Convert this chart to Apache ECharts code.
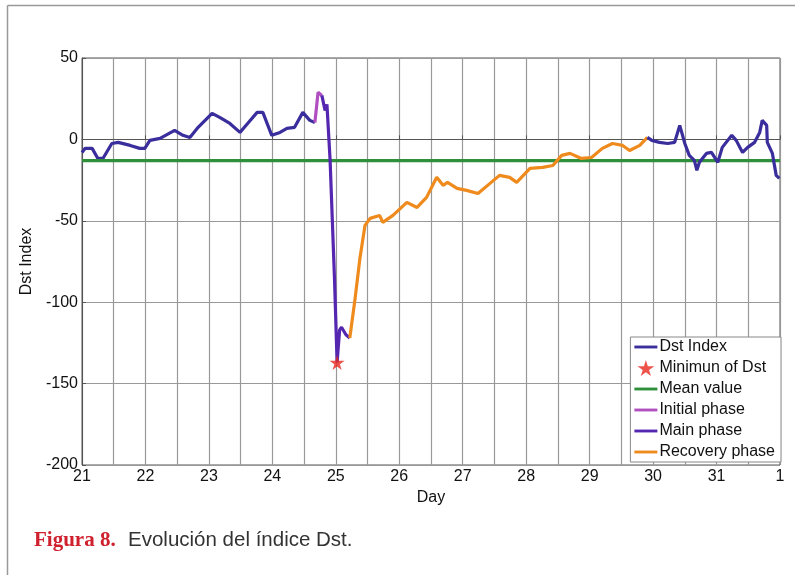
<!DOCTYPE html>
<html>
<head>
<meta charset="utf-8">
<script src="https://cdn.jsdelivr.net/npm/echarts@6/dist/echarts.min.js"></script>
<style>
html, body { margin: 0; background: #fff; }
#chart_box { width: 795px; height: 575px; }
</style>
</head>
<body>
<div id="chart_box"></div>
<script>
// dias (21 .. 32 = dia 1 del mes siguiente) y valores Dst
var dstBefore = [
  [21.00, -8], [21.05, -5.5], [21.16, -5.5], [21.25, -11.7], [21.33, -11.7], [21.47, -2.5],
  [21.57, -1.8], [21.76, -3.7], [21.91, -5.5], [21.99, -5.5], [22.07, -0.6], [22.23, 0.6],
  [22.46, 5.5], [22.59, 2.5], [22.70, 1.2], [22.83, 7.4], [23.05, 16], [23.17, 13.5],
  [23.33, 9.8], [23.49, 4.3], [23.61, 9.8], [23.76, 16.6], [23.85, 16.6], [23.99, 2.5],
  [24.12, 4.3], [24.23, 6.8], [24.35, 7.4], [24.48, 16.6], [24.59, 11.7], [24.67, 10.4]
]
var initialPhase = [[24.67, 10.4], [24.72, 28.9], [24.78, 27]]
var mainPhase = [
  [24.78, 27], [24.83, 17.8], [24.86, 21.5], [24.91, -12.9], [24.98, -86.6], [25.02, -137],
  [25.06, -117], [25.09, -115.4], [25.16, -120], [25.22, -122]
]
var recoveryPhase = [
  [25.22, -122], [25.30, -98.9], [25.38, -73], [25.46, -52.8], [25.54, -48.5], [25.69, -46.7],
  [25.74, -51], [25.90, -46.7], [26.12, -38.7], [26.28, -41.8], [26.43, -35.6], [26.59, -23.3],
  [26.69, -28.2], [26.76, -26.4], [26.91, -30.1], [27.06, -31.3], [27.24, -33.2], [27.43, -27],
  [27.58, -22.1], [27.74, -23.3], [27.85, -26.4], [28.06, -17.8], [28.26, -17.2], [28.42, -16],
  [28.56, -9.8], [28.69, -8.6], [28.87, -11.7], [29.03, -11.1], [29.20, -5.5], [29.36, -2.5],
  [29.52, -3.7], [29.63, -6.8], [29.79, -3.7], [29.91, 1.2]
]
var dstAfter = [
  [29.91, 1.2], [29.98, -0.6], [30.10, -1.8], [30.23, -2.5], [30.34, -1.8], [30.42, 8.6],
  [30.50, -2.5], [30.57, -9.8], [30.65, -12.9], [30.69, -19], [30.73, -14.1], [30.84, -8.6],
  [30.92, -8], [31.02, -14.1], [31.09, -4.9], [31.24, 2.5], [31.31, -0.6], [31.41, -8],
  [31.49, -4.9], [31.60, -1.8], [31.68, 4.3], [31.72, 11.7], [31.79, 8.6], [31.80, -1.8],
  [31.88, -8.6], [31.94, -22.1], [31.99, -24]
]
var minimumDst = [[25.02, -137]]
var meanValue = [[21, -13], [32, -13]]

var starIcon = 'path://M50,0 L61,35 L98,35 L68,57 L79,91 L50,70 L21,91 L32,57 L2,35 L39,35 Z'
var lineIcon = 'path://M0,0 L24,0 L24,3 L0,3 Z'
var font = "'Liberation Sans', Arial, sans-serif"

var myEcharts = echarts.init(document.getElementById('chart_box'))

function lineSeries(name, data, color) {
  return {
    name: name,
    type: 'line',
    data: data,
    symbol: 'none',
    lineStyle: { color: color, width: 3.2 },
    itemStyle: { color: color },
    z: 3
  }
}

var option = {
  backgroundColor: '#fff',
  animation: false,
  grid: {
    left: 82, right: 15, top: 58, bottom: 110,
    show: true, borderColor: '#555', borderWidth: 1, backgroundColor: '#fff'
  },
  legend: {
    orient: 'vertical',
    right: 14,
    bottom: 113,
    itemWidth: 23,
    itemHeight: 16,
    itemGap: 5,
    padding: [2, 6, 2, 4],
    backgroundColor: '#fff',
    borderColor: '#888',
    borderWidth: 1,
    textStyle: { fontFamily: font, fontSize: 16, color: '#111', padding: [0, 0, 0, -3] },
    data: [
      { name: 'Dst Index', icon: lineIcon },
      { name: 'Minimun of Dst', icon: starIcon },
      { name: 'Mean value', icon: lineIcon },
      { name: 'Initial phase', icon: lineIcon },
      { name: 'Main phase', icon: lineIcon },
      { name: 'Recovery phase', icon: lineIcon }
    ]
  },
  xAxis: {
    type: 'value',
    min: 21, max: 32, interval: 1,
    name: 'Day', nameLocation: 'middle', nameGap: 22,
    nameTextStyle: { fontFamily: font, fontSize: 16, color: '#111' },
    axisLine: { show: true, lineStyle: { color: '#555' } },
    axisTick: { inside: true, length: 4, lineStyle: { color: '#555' } },
    axisLabel: {
      fontFamily: font, fontSize: 16, color: '#111', margin: 4,
      formatter: function (v) { return v > 31 ? String(v - 31) : String(v) }
    },
    splitLine: { show: true, lineStyle: { color: '#999', width: 1.2 } },
    minorTick: { show: false, splitNumber: 2 },
    minorSplitLine: { show: true, lineStyle: { color: '#999', width: 1.2 } }
  },
  yAxis: {
    type: 'value',
    min: -200, max: 50, interval: 50,
    name: 'Dst Index', nameLocation: 'middle', nameGap: 45,
    nameTextStyle: { fontFamily: font, fontSize: 16, color: '#111' },
    axisLine: { show: true, lineStyle: { color: '#555' } },
    axisTick: { show: true, inside: true, length: 4, lineStyle: { color: '#555' } },
    axisLabel: { fontFamily: font, fontSize: 16, color: '#111', margin: 4 },
    splitLine: { show: true, lineStyle: { color: '#999', width: 1.2 } }
  },
  series: [
    lineSeries('Dst Index', dstBefore, '#3a2d9c'),
    {
      name: 'Minimun of Dst',
      type: 'scatter',
      data: minimumDst,
      symbol: starIcon,
      symbolSize: 15,
      itemStyle: { color: '#e8281e' },
      z: 5
    },
    lineSeries('Mean value', meanValue, '#2f8f3a'),
    lineSeries('Initial phase', initialPhase, '#b14fc0'),
    lineSeries('Main phase', mainPhase, '#5527b0'),
    lineSeries('Recovery phase', recoveryPhase, '#ef8a1d'),
    lineSeries('Dst Index', dstAfter, '#3a2d9c')
  ],
  graphic: [
    { type: 'line', shape: { x1: 7.5, y1: 5.5, x2: 795, y2: 5.5 }, style: { stroke: '#999', lineWidth: 1.5 } },
    { type: 'line', shape: { x1: 7.5, y1: 5.5, x2: 7.5, y2: 575 }, style: { stroke: '#999', lineWidth: 1.5 } },
    {
      type: 'text', left: 34, top: 530,
      style: { text: 'Figura 8.', fill: '#d0202e', font: "bold 21px 'Liberation Serif', 'DejaVu Serif', serif" }
    },
    {
      type: 'text', left: 128, top: 530,
      style: { text: 'Evolución del índice Dst.', fill: '#333', font: "20.5px 'Liberation Sans', Arial, sans-serif" }
    }
  ]
}

myEcharts.setOption(option)
</script>
</body>
</html>
